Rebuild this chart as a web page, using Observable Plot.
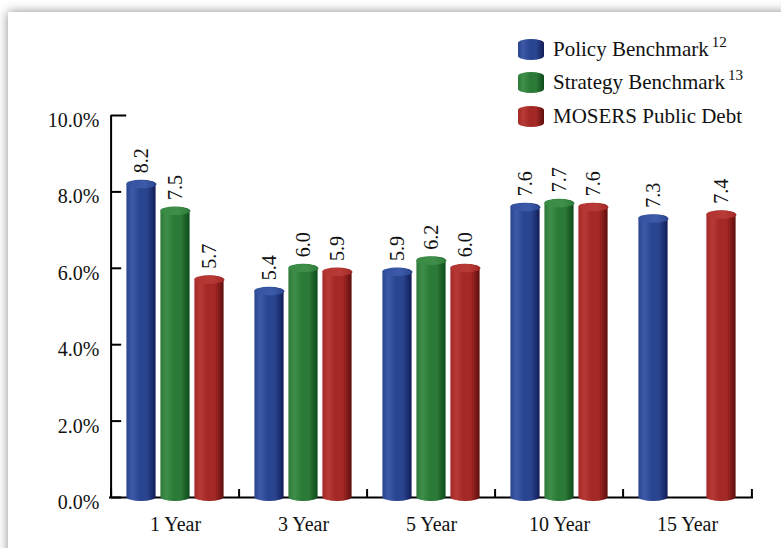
<!DOCTYPE html>
<html>
<head>
<meta charset="utf-8">
<script src="https://cdn.jsdelivr.net/npm/d3@7"></script>
<script src="https://cdn.jsdelivr.net/npm/@observablehq/plot@0.6"></script>
<style>
  html, body { margin: 0; padding: 0; background: #ffffff; width: 781px; height: 548px; overflow: hidden; }
  #panel { position: absolute; left: 8px; top: 12px; width: 820px; height: 600px; background: #fff;
           box-shadow: 0 0 10px rgba(0,0,0,0.45); }
  #chart { position: absolute; left: 0; top: 0; }
  #legend { position: absolute; left: 518px; top: 0; font-family: "Liberation Serif", serif; font-size: 21px; color: #111; }
  .item { position: absolute; left: 0; height: 24px; white-space: nowrap; }
  .sw { position: absolute; left: 0; width: 26px; height: 21px; border-radius: 13px / 4px; }
  .lab { position: absolute; left: 35px; top: -1px; line-height: 24px; }
  .lab sup { font-size: 15px; vertical-align: 0; position: relative; top: -9px; margin-left: 3px; }
</style>
</head>
<body>
<div id="panel"></div>
<svg width="0" height="0" style="position:absolute">
  <defs id="defs"></defs>
</svg>
<div id="chart"></div>
<div id="legend"></div>
<script>
// ---- data ----
const categories = ["1 Year", "3 Year", "5 Year", "10 Year", "15 Year"];
const seriesNames = ["Policy Benchmark", "Strategy Benchmark", "MOSERS Public Debt"];
const seriesSup = ["12", "13", ""];
const policyBenchmark = [8.2, 5.4, 5.9, 7.6, 7.3];
const strategyBenchmark = [7.5, 6.0, 6.2, 7.7, null];
const mosersPublicDebt = [5.7, 5.9, 6.0, 7.6, 7.4];
const yTicks = [0, 2, 4, 6, 8, 10];

// ---- styles ----
const palettes = [
  {light: "#3d5aa8", mid: "#2a4590", dark: "#131d55", cap: "#34509f"},
  {light: "#3f8f4a", mid: "#2c7a38", dark: "#0e4a1c", cap: "#398a44"},
  {light: "#b83a36", mid: "#a32826", dark: "#5e0e0c", cap: "#b2332f"}
];
const font = "Liberation Serif, Times New Roman, serif";
const W = 781, H = 548;
const mL = 109, mR = 28, mT = 115, mB = 51;
const bw = (W - mL - mR) / categories.length;
const barW = 30, barStep = 34, capRy = 4;
const pxPerUnit = (H - mT - mB) / 10;

// gradients
const defs = d3.select("#defs");
palettes.forEach((p, i) => {
  const g = defs.append("linearGradient").attr("id", "body" + i).attr("x1", 0).attr("x2", 1).attr("y1", 0).attr("y2", 0);
  [[0, p.mid], [0.2, p.light], [0.45, p.mid], [0.7, p.mid], [1, p.dark]].forEach(([o, c]) =>
    g.append("stop").attr("offset", o).attr("stop-color", c));
  const c = defs.append("linearGradient").attr("id", "cap" + i).attr("x1", 0).attr("x2", 1).attr("y1", 0).attr("y2", 0);
  [[0, p.cap], [0.6, p.light], [1, p.mid]].forEach(([o, col]) =>
    c.append("stop").attr("offset", o).attr("stop-color", col));
});

const seriesValues = [policyBenchmark, strategyBenchmark, mosersPublicDebt];
const rows = seriesValues.map((vals, s) =>
  categories.map((cat, i) => ({cat, value: vals[i], s})).filter(d => d.value != null));

// ellipse symbol for cylinder caps
const ellipse = {
  draw(ctx) {
    const rx = barW / 2, ry = capRy, k = 0.5523;
    ctx.moveTo(-rx, 0);
    ctx.bezierCurveTo(-rx, -ry * k, -rx * k, -ry, 0, -ry);
    ctx.bezierCurveTo(rx * k, -ry, rx, -ry * k, rx, 0);
    ctx.bezierCurveTo(rx, ry * k, rx * k, ry, 0, ry);
    ctx.bezierCurveTo(-rx * k, ry, -rx, ry * k, -rx, 0);
    ctx.closePath();
  }
};

const inset = (bw - barW) / 2;
const marks = [];
// baseline
marks.push(Plot.ruleY([0], {stroke: "#000", strokeWidth: 2}));
// y-axis line
marks.push(Plot.ruleX([categories[0]], {x: d => d, dx: -bw / 2, y1: 0, y2: 10, stroke: "#000", strokeWidth: 2}));
// y ticks (inward)
marks.push(Plot.tickY(yTicks.filter(t => t < 10), {x: () => categories[0], y: d => d, insetRight: bw - 11, stroke: "#000", strokeWidth: 2}));
marks.push(Plot.tickY(yTicks.filter(t => t === 10), {x: () => categories[0], y: d => d, insetRight: bw - 16, stroke: "#000", strokeWidth: 2}));
// x category boundary ticks
const xTickLen = 8 / pxPerUnit;
marks.push(Plot.ruleX(categories, {x: d => d, dx: -bw / 2, y1: 0, y2: xTickLen, stroke: "#000", strokeWidth: 2}));
marks.push(Plot.ruleX([categories[categories.length - 1]], {x: d => d, dx: bw / 2, y1: 0, y2: xTickLen, stroke: "#000", strokeWidth: 2}));

rows.forEach((data, s) => {
  const dx = (s - 1) * barStep;
  marks.push(Plot.barY(data, {
    x: "cat", y: "value", fill: `url(#body${s})`, dx,
    insetLeft: inset, insetRight: inset, insetTop: -capRy, insetBottom: -capRy,
    rx: barW / 2, ry: capRy
  }));
  marks.push(Plot.dot(data, {x: "cat", y: "value", dx, symbol: ellipse, r: 5, fill: `url(#cap${s})`, stroke: "none"}));
  marks.push(Plot.text(data, {
    x: "cat", y: "value", dx, dy: -11, text: d => d.value.toFixed(1),
    rotate: -90, textAnchor: "start", fontSize: 20, fontFamily: font, fill: "#111"
  }));
});

marks.push(Plot.axisY({ticks: yTicks, tickFormat: d => d.toFixed(1) + "%", tickSize: 0, tickPadding: 10, dy: 5, fontSize: 20, fontFamily: font, fill: "#111"}));
marks.push(Plot.axisX({tickSize: 0, tickPadding: 19, fontSize: 20, fontFamily: font, fill: "#111"}));

const chart = Plot.plot({
  width: W, height: H,
  marginLeft: mL, marginRight: mR, marginTop: mT, marginBottom: mB,
  style: {background: "transparent", overflow: "visible"},
  x: {domain: categories, padding: 0, label: null},
  y: {domain: [0, 10], label: null},
  marks
});
document.getElementById("chart").appendChild(chart);

// legend
const legend = d3.select("#legend");
const rowCenters = [50, 83, 117];
seriesNames.forEach((name, s) => {
  const item = legend.append("div").attr("class", "item").style("top", (rowCenters[s] - 12) + "px");
  item.append("div").attr("class", "sw").style("top", "1px")
    .style("background", `linear-gradient(to right, ${palettes[s].mid} 0%, ${palettes[s].light} 20%, ${palettes[s].mid} 45%, ${palettes[s].mid} 70%, ${palettes[s].dark} 100%)`);
  const lab = item.append("div").attr("class", "lab").text(name);
  if (seriesSup[s]) lab.append("sup").text(seriesSup[s]);
});
</script>
</body>
</html>
